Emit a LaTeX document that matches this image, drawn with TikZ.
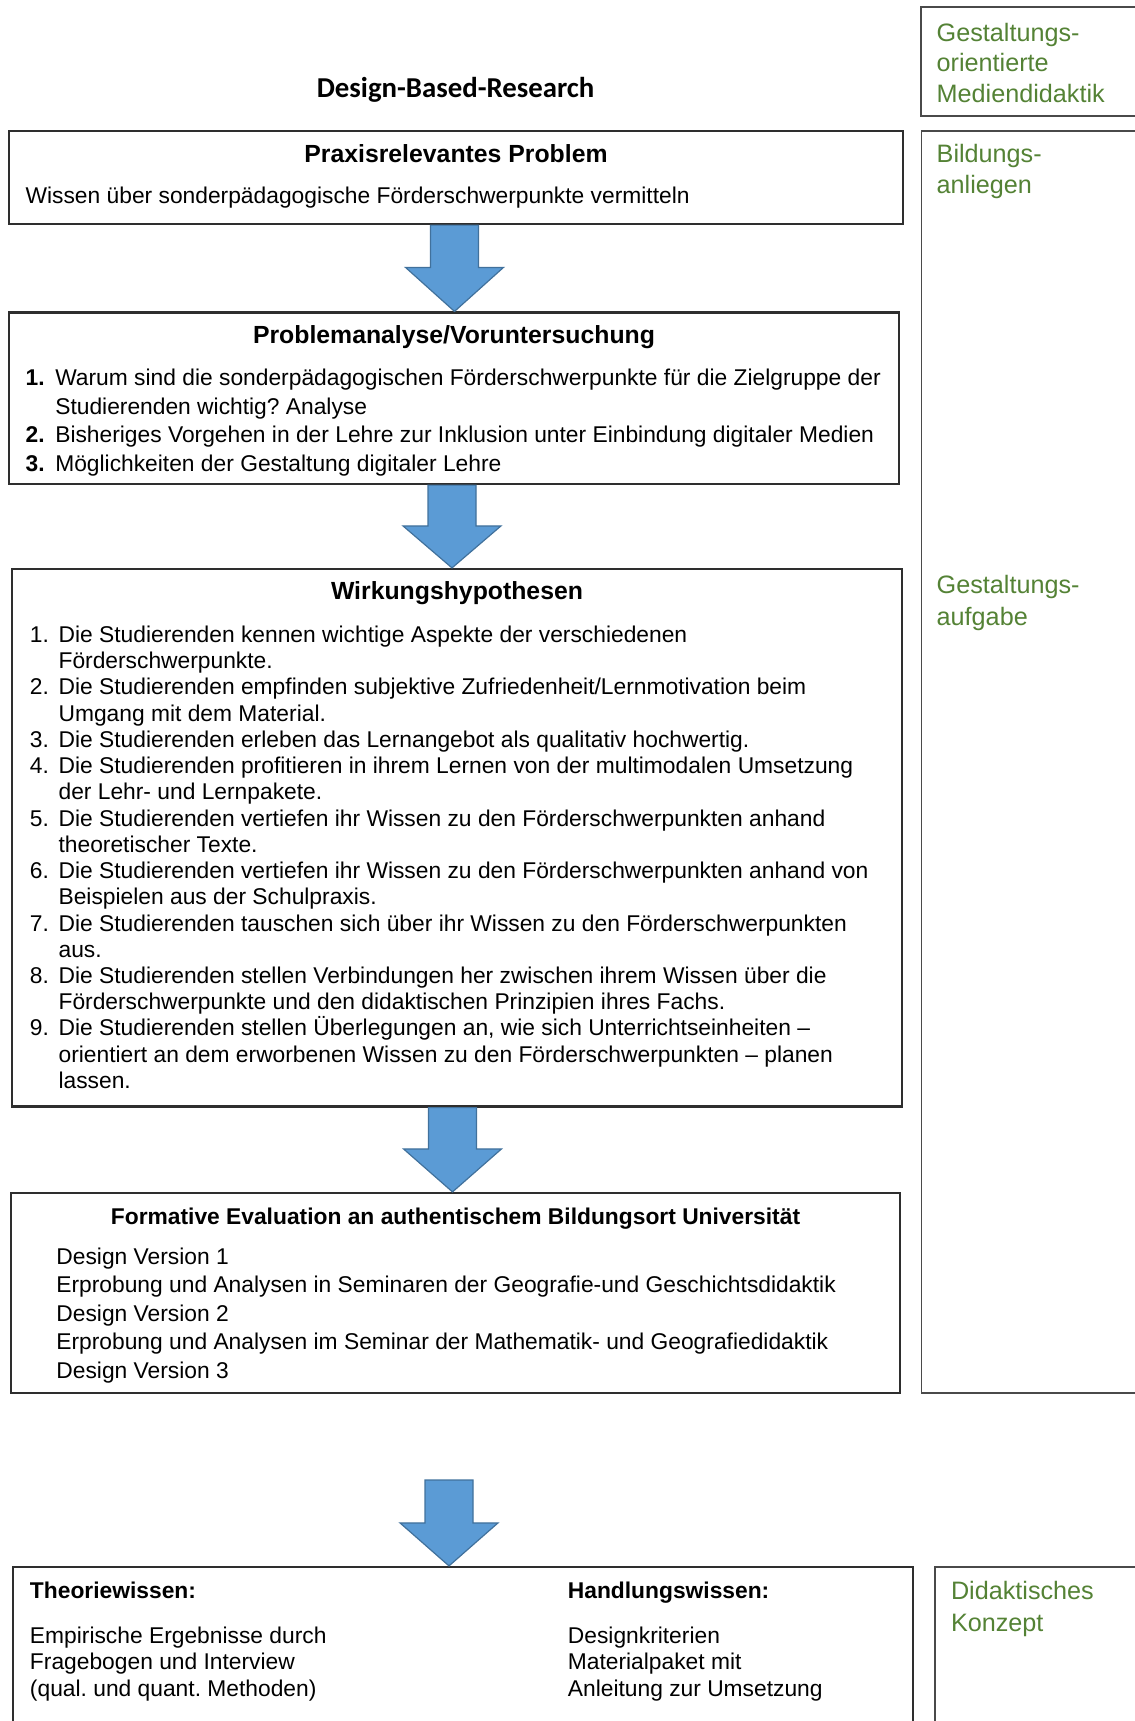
\documentclass[tikz,border=0pt]{standalone}
\usepackage{fontspec}
\setmainfont{Liberation Sans}
\newfontfamily\headingfont{Carlito}
\usetikzlibrary{calc,fit}
\frenchspacing

\definecolor{arrowfill}{HTML}{5B9BD5}
\definecolor{arrowline}{HTML}{41719C}
\definecolor{labelgreen}{HTML}{548235}
\definecolor{frameline}{HTML}{2E2E2E}
\definecolor{sideline}{HTML}{4A4A4A}

% block arrow: from point #1 down to point #2, head length #3
\newcommand\blockarrow[3]{%
  \draw[flowarrow] let \p1=#1, \p2=#2 in
    (\x1-12pt,\y1) -- (\x1+12pt,\y1) -- (\x1+12pt,\y2+#3) -- (\x1+24.5pt,\y2+#3)
    -- (\x1,\y2) -- (\x1-24.5pt,\y2+#3) -- (\x1-12pt,\y2+#3) -- cycle;}

\tikzset{
  frame/.style={draw=frameline, line width=1.1pt, inner sep=0pt},
  sidebox/.style={draw=sideline, line width=0.9pt, inner sep=0pt},
  txt/.style={anchor=base west, inner sep=0pt, font=\fontsize{11.4}{13.1}\selectfont},
  numb/.style={txt, font=\fontsize{11.4}{13.1}\selectfont\bfseries},
  ttl/.style={anchor=base, inner sep=0pt, font=\fontsize{12.4}{14.5}\selectfont\bfseries},
  ttlsmall/.style={anchor=base, inner sep=0pt, font=\fontsize{11.4}{13.5}\selectfont\bfseries},
  side/.style={anchor=base west, inner sep=0pt, text=labelgreen, font=\fontsize{12.6}{15}\selectfont},
  flowarrow/.style={fill=arrowfill, draw=arrowline, line width=0.6pt},
}

\begin{document}
\begin{tikzpicture}[x=0.5pt,y=-0.5pt]
\useasboundingbox (0,0) rectangle (1135,1721);
\clip (0,0) rectangle (1135,1721);

% heading
\node[anchor=base, inner sep=0pt, font=\headingfont\bfseries\fontsize{14.4}{17}\selectfont]
  (drtitle) at (455.6,97) {Design-Based-Research};

% main column frames
\node[frame, fit={(9,131) (903,224)}] (praxis) {};
\node[frame, fit={(9,312.5) (899,484)}] (problem) {};
\node[frame, fit={(12,569) (902,1106.5)}] (hypo) {};
\node[frame, fit={(11,1193) (900,1393)}] (eval) {};
\node[frame, fit={(13,1567) (913,1735)}] (result) {};

% right column frames
\node[sidebox, fit={(921,7) (1145,116)}] (medien) {};
\node[sidebox, fit={(921.5,131) (1145,1393)}] (anliegen) {};
\node[sidebox, fit={(935,1567) (1145,1735)}] (konzept) {};

% block arrows between stages
\blockarrow{($(praxis.south)+(-1.5,0)$)}{(problem.north)}{22pt}
\blockarrow{($(problem.south)+(-2,0)$)}{(hypo.north)}{21pt}
\blockarrow{($(hypo.south)+(-4.5,0)$)}{(eval.north)}{21.5pt}
\coordinate (resulttop) at (449,1480);
\blockarrow{(resulttop)}{(result.north)}{21.5pt}

% Praxisrelevantes Problem
\node[ttl] (praxistitle) at (456,162) {Praxisrelevantes Problem};
\node[txt] (praxistext) at (25.2,203.5) {Wissen über sonderpädagogische Förderschwerpunkte vermitteln};

% Problemanalyse
\node[ttl] (problemtitle) at (454,343.5) {Problemanalyse/Voruntersuchung};
\node[numb] (pn1) at (25.2,385.6) {1.};
\node[txt] (pl1) at (54.9,385.6) {Warum sind die sonderpädagogischen Förderschwerpunkte für die Zielgruppe der};
\node[txt] (pl2) at (54.9,414) {Studierenden wichtig? Analyse};
\node[numb] (pn2) at (25.2,442.7) {2.};
\node[txt] (pl3) at (54.9,442.7) {Bisheriges Vorgehen in der Lehre zur Inklusion unter Einbindung digitaler Medien};
\node[numb] (pn3) at (25.2,471.2) {3.};
\node[txt] (pl4) at (54.9,471.2) {Möglichkeiten der Gestaltung digitaler Lehre};

% Wirkungshypothesen
\node[ttl] (hypotitle) at (457,599.5) {Wirkungshypothesen};
\foreach \n/\l in {1/1,2/3,3/5,4/6,5/8,6/10,7/12,8/14,9/16}
  \node[txt] (hn\n) at (29.6,{642.5+26.23*(\l-1)}) {\n.};
\foreach \t [count=\i] in {
  Die Studierenden kennen wichtige Aspekte der verschiedenen,
  Förderschwerpunkte.,
  Die Studierenden empfinden subjektive Zufriedenheit/Lernmotivation beim,
  Umgang mit dem Material.,
  Die Studierenden erleben das Lernangebot als qualitativ hochwertig.,
  Die Studierenden profitieren in ihrem Lernen von der multimodalen Umsetzung,
  der Lehr- und Lernpakete.,
  Die Studierenden vertiefen ihr Wissen zu den Förderschwerpunkten anhand,
  theoretischer Texte.,
  Die Studierenden vertiefen ihr Wissen zu den Förderschwerpunkten anhand von,
  Beispielen aus der Schulpraxis.,
  Die Studierenden tauschen sich über ihr Wissen zu den Förderschwerpunkten,
  aus.,
  Die Studierenden stellen Verbindungen her zwischen ihrem Wissen über die,
  Förderschwerpunkte und den didaktischen Prinzipien ihres Fachs.,
  {Die Studierenden stellen Überlegungen an, wie sich Unterrichtseinheiten –},
  orientiert an dem erworbenen Wissen zu den Förderschwerpunkten – planen,
  lassen.}
  \node[txt] (hl\i) at (58.2,{642.5+26.23*(\i-1)}) {\t};

% Formative Evaluation
\node[ttlsmall] (evaltitle) at (455.5,1224) {Formative Evaluation an authentischem Bildungsort Universität};
\foreach \t [count=\i] in {
  Design Version 1,
  Erprobung und Analysen in Seminaren der Geografie-und Geschichtsdidaktik,
  Design Version 2,
  Erprobung und Analysen im Seminar der Mathematik- und Geografiedidaktik,
  Design Version 3}
  \node[txt] (el\i) at (56,{1264+28.54*(\i-1)}) {\t};

% Ergebnis: Theorie- und Handlungswissen
\node[numb] (theoriehead) at (29.6,1598) {Theoriewissen:};
\node[numb] (handlunghead) at (567.5,1598) {Handlungswissen:};
\foreach \t [count=\i] in {
  Empirische Ergebnisse durch,
  Fragebogen und Interview,
  (qual. und quant. Methoden)}
  \node[txt] (tl\i) at (29.6,{1643.6+26.3*(\i-1)}) {\t};
\foreach \t [count=\i] in {
  Designkriterien,
  Materialpaket mit,
  Anleitung zur Umsetzung}
  \node[txt] (al\i) at (567.5,{1643.6+26.3*(\i-1)}) {\t};

% right column labels
\node[side] (med1) at (936.3,41) {Gestaltungs-};
\node[side] (med2) at (936.3,71.5) {orientierte};
\node[side] (med3) at (936.3,102) {Mediendidaktik};
\node[side] (anl1) at (936.3,162) {Bildungs-};
\node[side] (anl2) at (936.3,193) {anliegen};
\node[side] (auf1) at (936.3,593) {Gestaltungs-};
\node[side] (auf2) at (936.3,625) {aufgabe};
\node[side] (kon1) at (950.6,1599) {Didaktisches};
\node[side] (kon2) at (950.6,1631) {Konzept};
\end{tikzpicture}
\end{document}
